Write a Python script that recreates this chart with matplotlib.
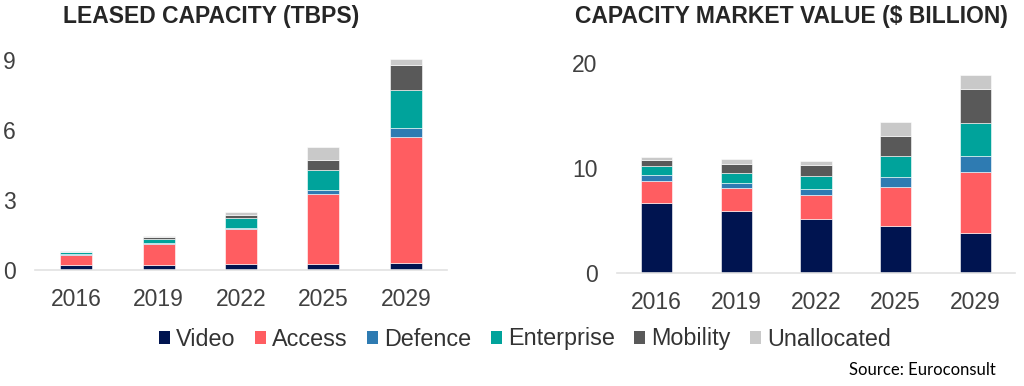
import matplotlib
matplotlib.use("Agg")
import matplotlib.pyplot as plt
from matplotlib.patches import Rectangle

plt.rcParams['font.family'] = ['Liberation Sans', 'DejaVu Sans']

years = ['2016', '2019', '2022', '2025', '2029']
segments = ['Video', 'Access', 'Defence', 'Enterprise', 'Mobility', 'Unallocated']
colors = ['#001450', '#ff5d61', '#2e7bb2', '#00a39b', '#595959', '#c9c9c9']

# leased capacity (Tbps)
cap_video = [0.20, 0.21, 0.24, 0.26, 0.29]
cap_access = [0.45, 0.89, 1.53, 3.01, 5.42]
cap_defence = [0.05, 0.04, 0.04, 0.14, 0.39]
cap_enterprise = [0.07, 0.17, 0.43, 0.88, 1.60]
cap_mobility = [0.02, 0.09, 0.13, 0.41, 1.10]
cap_unallocated = [0.03, 0.04, 0.13, 0.57, 0.24]

# capacity market value ($ billion)
val_video = [6.63, 5.90, 5.11, 4.48, 3.84]
val_access = [2.10, 2.16, 2.35, 3.71, 5.78]
val_defence = [0.64, 0.51, 0.54, 0.92, 1.55]
val_enterprise = [0.85, 0.95, 1.27, 2.03, 3.08]
val_mobility = [0.51, 0.83, 0.98, 1.91, 3.24]
val_unallocated = [0.32, 0.51, 0.42, 1.36, 1.37]

cap_data = [cap_video, cap_access, cap_defence, cap_enterprise, cap_mobility, cap_unallocated]
val_data = [val_video, val_access, val_defence, val_enterprise, val_mobility, val_unallocated]

fig = plt.figure(figsize=(10.24, 3.86), dpi=100)
ax1 = fig.add_axes([35/1024, 0.3005, 412/1024, 0.580])
ax2 = fig.add_axes([617/1024, 0.2927, 398/1024, 0.571])

tick_color = '#404040'


def stacked(ax, data, ylim, yticks):
    x = range(len(years))
    bottom = [0] * len(years)
    for vals, c in zip(data, colors):
        ax.bar(x, vals, 0.39, bottom=bottom, color=c, edgecolor='white', linewidth=0.4)
        bottom = [b + v for b, v in zip(bottom, vals)]
    ax.set_xlim(-0.5, 4.5)
    ax.set_ylim(*ylim)
    ax.set_xticks(list(x))
    ax.set_xticklabels(years)
    ax.set_yticks(yticks)
    for s in ['top', 'right', 'left']:
        ax.spines[s].set_visible(False)
    ax.spines['bottom'].set_color('#e2e2e2')
    ax.spines['bottom'].set_linewidth(1.2)
    ax.tick_params(axis='x', length=0, pad=13, labelsize=16.5, labelcolor=tick_color)
    ax.tick_params(axis='y', length=0, pad=14, labelsize=16.5, labelcolor=tick_color)


stacked(ax1, cap_data, (0, 9.6), [0, 3, 6, 9])
stacked(ax2, val_data, (0, 21), [0, 10, 20])

fig.text(63/1024, 1 - 16/386, 'LEASED CAPACITY (TBPS)', ha='left', va='center',
         fontsize=16.5, fontweight='bold', color='#262626')
fig.text(575/1024, 1 - 16/386, 'CAPACITY MARKET VALUE ($ BILLION)', ha='left', va='center',
         fontsize=16.5, fontweight='bold', color='#262626')

handles = [Rectangle((0, 0), 1, 1, facecolor=c) for c in colors]
fig.legend(handles, segments, loc='center', bbox_to_anchor=(525/1024, 1 - 339/386),
           ncol=6, frameon=False, fontsize=16.8, handlelength=0.47, handleheight=0.47,
           handletextpad=0.25, columnspacing=0.85, borderpad=0, borderaxespad=0,
           labelcolor='#333333')

fig.text(996/1024, 1 - 370/386, 'Source: Euroconsult', ha='right', va='center',
         fontsize=12, family=['Lato', 'DejaVu Sans'], color='black')

fig.savefig('out.png', dpi=100)
